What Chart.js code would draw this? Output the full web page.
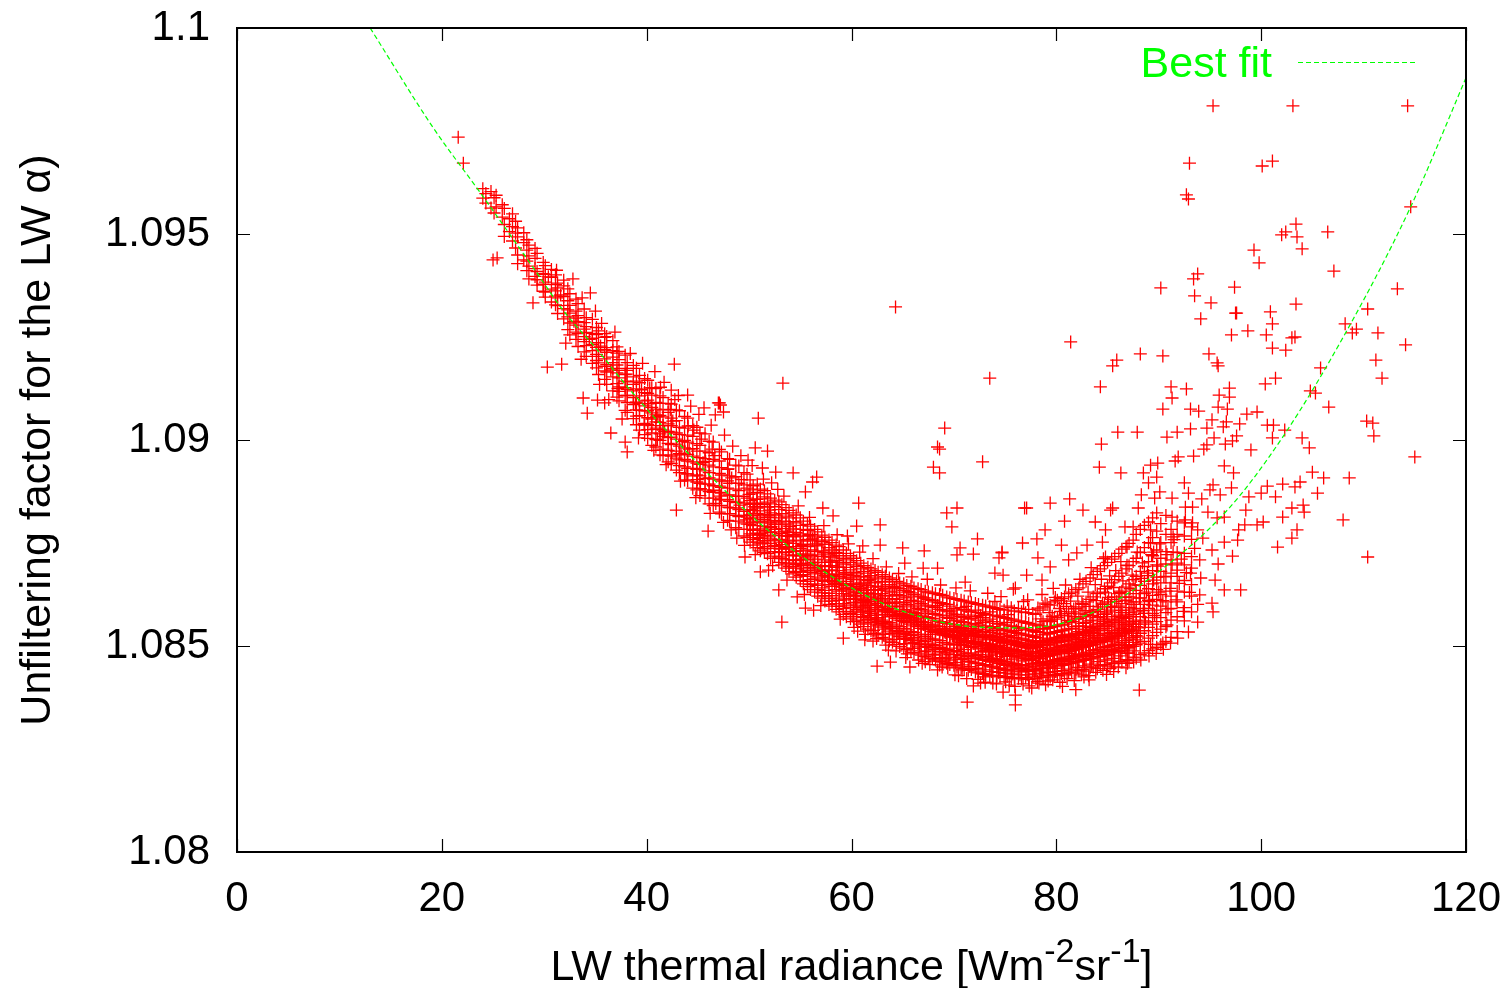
<!DOCTYPE html>
<html><head><meta charset="utf-8">
<script src="https://cdn.jsdelivr.net/npm/chart.js@4"></script>
<style>html,body{margin:0;padding:0;background:#fff}#w{width:1508px;height:988px;position:relative}</style>
</head><body><div id="w"><canvas id="c" width="1508" height="988"></canvas></div>
<script>
const xTickValues=[0,20,40,60,80,100,120];
const yTickLabels=['1.08','1.085','1.09','1.095','1.1'];
const seriesFit='Best fit';
const xTitleParts=['LW thermal radiance [Wm','-2','sr','-1',']'];
const yTitle='Unfiltering factor for the LW \u03b1)';
// Factor values below are in units of 0.00001 above 1.08
const fitRadiance=[13,19.1,23.7,29.3,31.8,35.2,38.4,41.6,47.9,51.8,58.2,64.7,72.3,76,80,84.3,88.9,96.7,102.1,108.4,114.6,120];
const fitFactor=[2000,1760,1602,1405,1316,1218,1121,1032,871,782,667,587,546,544,552,590,660,830,1007,1267,1566,1879];
const isolated=[[95.3,1811],[103.1,1811],[114.3,1811],[93,1672],[100.1,1665],[101.1,1677],[92.7,1595],[92.9,1585],[114.6,1566],[103.4,1524],[102.4,1505],[102,1498],[103.5,1493],[106.5,1505],[104,1464],[99.3,1461],[99.8,1430],[107.1,1410],[93.8,1403],[93.4,1391],[90.2,1369],[97.4,1371],[113.3,1367],[93.5,1350],[95.1,1333],[103.4,1330],[97.6,1308],[97.5,1308],[100.9,1311],[110.4,1318],[94.1,1294],[101.1,1282],[108.2,1282],[109.3,1269],[108.9,1260],[98.7,1265],[111.4,1260],[97.1,1255],[100.5,1255],[103.3,1250],[103,1248],[114.1,1231],[81.4,1238],[101.1,1223],[102.4,1218],[111.2,1194],[111.8,1150],[88.2,1209],[90.4,1204],[85.9,1194],[85.5,1180],[94.9,1209],[95.7,1187],[95.8,1180],[84.3,1129],[105.8,1175],[101.4,1150],[100.4,1136],[91.2,1129],[92.7,1124],[96.9,1126],[95.9,1109],[96.9,1104],[91.3,1102],[104.8,1119],[105.3,1114],[106.6,1080],[90.4,1075],[93.1,1075],[93.9,1070],[95.8,1080],[96.7,1075],[99.6,1068],[98.6,1063],[95.2,1049],[96.6,1044],[110.3,1046],[110.9,1041],[111,1010],[93.1,1027],[94.7,1029],[96.3,1032],[97.9,1039],[91.8,1019],[100.6,1036],[101.2,1036],[102.3,1024],[86,1019],[87.9,1019],[90.8,1007],[104,1005],[101.1,1005],[95.4,1005],[97.6,1010],[97.2,998],[84.4,990],[104.7,981],[96.5,990],[94.7,988],[99,976],[94.4,978],[93.4,961],[115,959],[91.9,959],[91.6,949],[89.9,944],[89.2,939],[84.2,934],[96.4,937],[86.3,920],[88.5,920],[89.8,910],[97.3,920],[105,922],[106.1,908],[108.6,908],[92.5,896],[89,896],[103.8,898],[102.1,893],[103.3,886],[100.6,888],[95.3,891],[97.1,884],[95,879],[90.1,874],[92.9,871],[105.5,871],[101.4,862],[100,871],[98.8,862],[96,867],[88.3,867],[94.2,857],[91.3,859],[89.6,859],[77.1,835],[76.9,835],[79.4,847],[81.3,857],[82.6,830],[85.5,835],[85.3,830],[88,835],[92.6,837],[93.3,837],[94.8,825],[98.5,830],[104.1,842],[104.2,825],[103,835],[102.1,813],[108,806],[100.2,801],[99.6,794],[96.4,813],[95.7,811],[91.3,813],[89.8,823],[80.8,803],[83.8,801],[92.6,806],[93.3,799],[97.8,782],[98.4,794],[103.5,782],[103,762],[101.6,740],[110.4,716],[97.7,757],[96.4,752],[95.2,733],[97.2,718],[95.8,699],[95.5,660],[96.4,636],[98,636],[94,624],[95.2,604],[95.3,583],[93.8,558],[92.9,534],[90.8,551],[90.4,507],[78.9,782],[78.1,760],[76.7,750],[74.7,726],[80.5,745],[78.2,714],[81.2,709],[82,726],[83,745],[84.8,782],[86.7,789],[87.5,789],[84.5,752],[86.9,740],[89.2,782],[89.2,750],[89.5,728],[91.4,765],[91.4,728],[93.8,782],[94.3,762],[84.8,716],[79.4,692],[77.1,672],[74.8,672],[78.6,660],[94,709],[93.1,677],[91.8,684],[76,641],
[64.3,1323],[73.5,1150],[69.1,1029],[68.4,983],[68.6,978],[68,934],[68.6,920],[72.8,947],[53.3,1138],[50.9,1053],[47,1090],[47.2,1085],[45.6,1078],[46.7,1061],[47.5,1068],[50.6,981],[51.8,973],[49.9,951],[51.3,932],[54.3,920],[52.6,922],[56.6,910],[56.2,898],[55.5,874],[52.2,896],[60.7,847],[60.5,791],[62.8,794],[58.2,816],[57.2,835],[59.6,767],[61.1,743],[62.8,745],[65,738],[67.1,731],[68.4,689],[69.3,823],[70.3,835],[69.8,789],[72.3,760],[70.6,738],[70.3,721],[71.9,723],[74.7,728],[74.4,714],[74,677],[71.1,655],[67,689],[65.2,701],[53.2,558],[59.2,519],[61.3,515],[62.5,451],[63.8,461],[65.7,449],[71.3,364],[76,381],[76,357],[71.9,403],[74.8,388],[46,779],[49.6,716],[52.9,636],[54.7,619],[55.5,592],[56.3,587],[51.1,680],[51.9,684],[68.6,454],[70.8,442],[72.9,425],[73.8,410],[88.1,393],
[21.6,1735],[22.1,1672],[25.4,1442],[25,1437],[32.8,1391],[34.5,1357],[35,1313],[28.9,1333],[30.3,1177],[31.7,1184],[42.7,1184],[33.8,1102],[34.2,1065],[35.2,1097],[35.9,1090],[36.5,1017],[37.9,995],[38.1,971],[42.9,830],[44,1109],[42.4,1121],[47.1,1090],[78.3,410],[80.6,402],[83.2,418],[84.9,431],[86.8,447],[81.9,394],[67.2,462],[69.4,447]];
// Points read along the rough edges and through the thinner parts of the cloud
const scattered=[[31.2,1412],[33.7,1345],[35.6,1283],[36.9,1262],[38.4,1210],[39.6,1186],[40.8,1166],[41.7,1140],[43.1,1108],[44.3,1082],[45.1,1062],[46.3,1036],[47.6,1012],[48.4,985],[49.2,962],[50.3,938],[51.4,905],[52.8,880],[53.4,864],[54.8,840],[55.9,812],[57.3,792],[58.6,770],[59.7,748],[60.8,728],[62.1,712],[63.4,692],[64.6,676],[65.9,668],[67.4,662],[68.7,648],[70.2,641],[71.6,634],[73.3,628],[74.6,620],[75.8,638],[77.2,612],[78.6,625],[79.7,640],[80.9,648],[82.3,662],[83.4,690],[84.6,712],[85.2,670],[86.3,705],[32.1,1235],[33.6,1196],[35.4,1135],[36.3,1098],[37.6,1051],[39.2,1005],[40.7,975],[41.9,940],[43.3,900],[44.8,860],[46.2,822],[47.5,800],[48.8,762],[50.6,722],[52.3,695],[53.7,660],[55.4,625],[57,598],[58.9,565],[60.6,536],[62.1,512],[63.6,490],[65.3,472],[66.9,458],[68.4,442],[70.1,430],[72.6,410],[75.4,405],[77.6,398],[79.2,415],[82.7,425],[85.6,438],
[78.2,592],[78.5,566],[78.9,604],[79.3,581],[79.6,572],[79.9,618],[80.3,591],[80.4,584],[80.7,603],[81,596],[81.1,562],[81.4,609],[81.7,590],[81.8,571],[82.1,621],[82.4,578],[82.5,603],[82.8,586],[83.1,631],[83.2,596],[83.5,574],[83.8,649],[83.9,610],[84.1,584],[84.4,662],[84.5,604],[84.8,629],[84.9,580],[85.1,618],[85.3,596],[85.6,642],[85.9,608],[85.8,683],[86.2,630],[86.3,586],[86.5,658],[86.7,618],[86.9,696],[87.2,639],[87.3,607],[87.4,672],[87.6,590],[87.7,648],[87.9,728],[88.1,616],[88.3,664],[88.4,702],[88.5,586],[88.8,631],[88.9,677],[89.1,608],[89.3,722],[89.5,660],[89.6,574],[89.9,694],[90,631],[90.1,748],[90.4,610],[90.5,668],[90.8,722],[90.9,590],[91.1,640],[91.3,697],[91.5,758],[91.7,612],[92,652],[92.2,711],[92.4,584],[92.7,678],[93,630],[93.5,737],[93.8,601],[94.1,665],
[60.4,614],[60.9,640],[61.4,598],[61.8,662],[62.5,604],[62.9,636],[63.5,588],[64.2,642],[64.9,562],[65.6,632],[66.3,574],[67,616],[67.7,528],[68.4,598],[69.1,536],[69.8,578],[70.5,512],[71.2,596],[71.9,529],[72.6,574],[73.4,486],[74,608],[74.7,508],[75.3,576],[76.1,538],[76.8,608],[77.5,494],[78.1,534],[78.8,542],[79.5,560],[80,502],[80.6,527],[81.3,482],[82,512],[82.9,548],[83.7,526],[84.6,565],[85.5,512],[86.6,552],[87,483],[87.9,522],[88.7,558],[89.2,504],[40.3,1126],[41.1,1058],[42.3,1074],[43.5,996],[44.6,1024],[45.5,945],[46.4,978],[47.2,864],[48.3,908],[49.1,842],[50,868],[51,770],[52,830],[53,752],[54,790],[55.1,700],[56.2,760],[57.2,660],[58.3,724],[59.3,612],[36.5,1170],[37.2,1125],[38,1160],[38.9,1090],[39.5,1122],[30.4,1396],[31.6,1352],[32.9,1288],[34.4,1244],[35.5,1228]];
// Points read in the solid core of the cloud and just outside its lower edge
const corePoints=[[55.15,744],[55.55,716],[55.85,768],[56.25,702],[56.55,748],[56.95,684],[57.25,726],[57.65,668],[57.95,706],[58.35,652],[58.65,694],[59.05,636],[59.35,678],[59.75,624],[60.05,662],[60.35,606],[60.75,650],[61.05,592],[61.45,636],[61.75,584],[62.15,626],[62.45,566],[62.85,612],[63.15,558],[63.55,604],[63.85,544],[64.25,596],[64.55,532],[64.95,584],[65.25,518],[65.65,574],[65.95,506],[66.35,566],[66.65,498],[67.05,552],[67.35,488],[67.75,546],[68.05,480],[68.45,540],[68.75,472],[69.15,532],[69.45,466],[69.85,524],[70.15,460],[70.55,518],[70.85,454],[71.25,510],[71.55,450],[71.95,506],[72.25,446],[72.65,500],[72.95,442],[73.35,494],[73.65,438],[74.05,490],[74.35,436],[74.75,486],[75.05,434],[75.45,482],[75.75,432],[76.15,478],[76.45,430],[76.85,476],[77.15,430],[77.55,474],[77.85,432],[78.25,476],[78.55,434],[78.95,480],[79.25,436],[79.65,482],[79.95,438],[80.35,486],[80.65,440],[81.05,490],[81.35,444],[81.75,494],[82.05,448],[82.45,498],[82.75,452],[83.15,502],[83.45,456],[83.85,508],[84.15,462],[84.55,514],[84.85,466],[85.25,520],[85.55,470],[85.95,526],[86.25,476],[86.65,532],[86.95,482],[87.35,538],[87.65,488],[88.05,544],
[60.15,572],[61.15,556],[62.15,538],[63.15,528],[64.15,516],[65.15,506],[66.15,494],[67.15,486],[68.15,478],[69.15,470],[70.65,504],[71.15,528],[71.65,498],[72.15,538],[72.65,486],[73.15,522],[73.65,478],[74.15,516],[74.65,474],[75.15,512],[75.65,468],[76.15,506],[76.65,464],[77.15,502],[77.65,458],[78.15,498],[78.65,456],[79.15,492],[79.65,454],[80.15,488],[80.65,458],[81.15,510],[81.65,462],[82.15,516],[82.65,468],[83.15,524],[83.65,474],[84.15,530],[84.65,482],[85.15,538],[85.65,488],[86.15,546],[86.65,496],[87.15,556],
[70.45,428],[71.25,421],[72.35,419],[73.05,412],[74.15,408],[75.05,413],[75.95,402],[76.75,408],[77.35,403],[78.15,414],[78.95,406],[79.65,418],[80.35,412],[81.05,421],[81.75,416],[82.45,430],[83.15,428],[83.85,436],[84.55,441],[85.25,446],[86.05,449],[86.95,458],[87.55,461],[88.25,466],[89.05,476],[89.75,482],[90.45,492],[91.15,507],[91.85,519],[60.25,545],[61.35,528],[62.45,518],[63.35,502],[64.35,488],[65.45,481],[66.55,466],[67.65,455],[68.85,449],
[40.15,1088],[40.95,1056],[41.75,1020],[42.55,1046],[43.35,964],[44.15,978],[44.95,904],[45.75,948],[46.55,878],[47.35,900],[48.15,836],[48.95,864],[49.75,806],[50.55,838],[51.35,750],[52.15,790],[52.95,736],[53.75,766],[54.55,698],[41.35,1128],[42.75,1098],[44.05,1034],[45.35,1002],[46.65,962],[47.95,930],[49.25,904],[50.75,856],[51.95,818],[53.15,796],[54.35,770],[39.75,1040],[41.05,1002],[42.45,964],[43.85,918],[45.25,882],[46.75,846],[48.25,782],[49.55,744]];
// Each row: radiance, then the factors read at about that radiance
const bandRows=[
[24,1610,1587],[24.3,1598,1575],[24.8,1603,1563],[25.1,1588,1551],[25.3,1566,1594],[25.9,1541,1571],[26.1,1523,1562,1494],[26.6,1537,1506],[26.9,1483,1518,1549],[27.2,1466,1502,1531],[27.4,1449,1493,1515,1428],[28,1479,1437,1503],[28.3,1411,1461,1486,1434],[28.5,1473,1422,1447,1391],[29.1,1397,1441,1465,1416],[29.3,1376,1409,1453,1389],[29.9,1361,1431,1404,1378],[30.1,1347,1383,1402,1423,1359],[30.7,1335,1366,1395,1414],[31.1,1328,1349,1377,1401,1362],[31.3,1307,1345,1369,1381,1326],[31.9,1294,1319,1348,1374,1388],[32.3,1268,1299,1316,1338,1367],[32.5,1255,1284,1308,1327,1355],[33.1,1244,1279,1296,1313,1342,1262],[33.3,1227,1258,1287,1302,1331],[33.9,1214,1239,1269,1285,1318,1251],[34.1,1203,1229,1261,1275,1297],[34.7,1186,1217,1247,1259,1293,1232],[35.1,1175,1208,1225,1256,1273,1193],[35.3,1159,1187,1218,1236,1265,1203],[35.9,1147,1179,1197,1219,1249,1258,1168],[36.1,1135,1165,1183,1213,1224,1251],[36.7,1119,1153,1174,1201,1217,1241,1188],[37.1,1104,1137,1163,1182,1211,1226],[37.3,1095,1118,1151,1169,1195,1215,1129],[37.9,1072,1108,1127,1159,1174,1206,1143],[38.1,1067,1091,1123,1141,1169,1188,1108],[38.7,1052,1086,1103,1135,1153,1181,1119],[39,1037,1073,1092,1124,1143,1174,1058],[39.3,1024,1059,1089,1107,1139,1157,1072],[39.8,1013,1036,1071,1095,1115,1149,1083],
[40.1,1004,1025,1054,1071,1097,1113,1145,1038],[40.5,987,1017,1035,1066,1079,1109,1127,1051],[40.9,983,1001,1029,1044,1075,1091,1125,1061],[41.3,964,999,1015,1043,1060,1089,1107,1026],[41.6,962,978,1009,1024,1056,1073,1103,1035],[42.1,947,975,992,1021,1039,1067,1089,1006],[42.4,943,961,989,1007,1035,1053,1087,1019],[42.9,927,956,973,1002,1017,1047,1073,990],[43.2,921,938,967,985,1013,1031,1071,952],[43.7,903,935,953,981,999,1029,1057,968],[44,901,918,949,965,995,1012,1053,931],[44.5,883,913,931,961,979,1009,1035,947],[44.9,879,898,929,944,973,991,1031,915],[45.2,865,895,913,941,957,987,1017,929],[45.7,859,879,907,925,955,973,1015,893],[46.1,845,875,893,921,939,969,997,908],[46.5,841,859,889,905,935,953,995,873],[47.1,825,855,873,903,919,949,977,888],[47.3,821,841,871,885,915,933,971,856],[47.9,805,837,855,883,901,929,955,866],[48.1,803,821,851,867,895,913,953,836],[48.7,787,817,835,863,881,911,939,848],[49,783,803,831,849,877,895,937,814],[49.5,767,799,817,847,863,891,921,827],[49.8,763,783,813,831,859,883,917,796],
[50.1,752,772,783,809,818,844,853,879,903,795,831],[50.4,745,758,781,792,817,829,847,871,889,769,801],[50.8,739,763,774,799,811,835,846,873,893,752,822],[51.1,731,748,773,784,803,828,839,857,881,761,816],[51.5,736,756,768,791,807,819,844,862,877,780,727],[51.8,724,741,765,777,801,812,837,849,869,755,789],[52.1,713,737,749,775,787,813,823,845,859,760,798],[52.5,718,729,757,769,783,805,818,838,854,744,795],[52.9,703,727,741,759,777,801,811,831,850,716,768],[53.2,697,712,736,746,773,785,803,821,843,728,757],[53.6,689,709,727,739,768,779,796,815,836,701,752],[53.9,681,701,721,741,755,775,791,811,829,693,735],[54.3,675,693,719,729,749,767,784,802,823,709,757],[54.6,667,689,707,731,741,765,776,799,818,679,720],[55,659,681,701,719,737,755,772,793,811,671,709],[55.3,651,673,695,711,731,747,767,783,803,687,723],[55.7,644,669,683,709,723,741,759,781,795,657,699],[56,637,661,679,697,719,733,755,771,791,649,691],[56.4,631,651,675,689,711,729,745,765,783,663,703],[56.7,621,647,667,685,703,721,743,757,777,637,695],[57.1,616,641,659,681,695,717,731,753,769,629,677],[57.4,609,635,657,671,693,709,727,747,764,622,683],[57.8,601,628,649,667,685,703,721,739,757,615,675],[58.1,597,622,645,659,683,695,716,733,751,609,671],[58.5,589,616,637,655,673,691,707,727,745,603,663],[58.8,583,611,633,649,669,683,703,719,741,596,657],[59.2,577,603,627,643,665,677,699,713,733,591,652],[59.5,571,599,621,639,657,673,691,709,725,584,647],[59.9,566,593,615,633,651,667,685,703,719,579,641],
[60.2,559,583,605,621,637,649,671,679,697,713,594,629],[60.5,563,577,599,613,631,645,661,675,693,707,588,623],[60.9,553,571,595,607,627,641,653,669,687,701,582,616],[61.2,547,569,587,605,621,635,651,667,681,695,561,611],[61.6,541,564,583,599,617,629,647,659,677,691,574,608],[61.9,537,557,579,593,613,627,643,655,671,687,568,602],[62.3,531,553,575,589,609,621,637,653,667,683,563,598],[62.6,527,549,569,587,603,617,635,645,663,679,559,593],[63,521,546,563,583,597,615,627,643,657,673,555,589],[63.3,517,541,559,577,595,609,623,639,655,669,551,585],[63.7,512,536,557,573,591,605,621,633,649,665,547,581],[64,509,531,553,571,585,603,615,631,645,661,542,577],[64.4,504,527,549,567,583,597,613,625,643,657,538,574],[64.7,499,523,547,563,579,595,607,623,639,653,535,571],[65.1,495,519,543,559,577,589,605,619,635,651,531,567],[65.4,492,516,539,557,571,587,601,617,631,647,528,563],[65.8,488,513,535,553,569,583,599,611,629,645,525,561],[66.1,484,509,533,549,565,581,595,609,625,641,521,557],[66.5,481,505,529,547,561,579,591,607,621,639,517,553],[66.8,478,503,527,543,559,575,589,603,619,637,513,549],[67.2,475,499,523,541,557,571,587,599,617,633,511,547],[67.5,471,497,519,539,553,569,583,597,613,631,507,544],[67.9,469,493,517,535,551,567,579,595,611,629,504,541],[68.2,466,491,515,533,549,563,577,593,607,627,501,537],[68.6,463,487,513,529,547,559,575,589,605,625,497,535],[68.9,461,485,509,527,543,557,573,587,603,623,494,531],[69.3,458,483,505,525,541,555,569,585,601,619,491,529],[69.6,455,479,503,523,537,553,567,583,597,617,489,527],
[70,453,471,489,507,521,535,547,561,573,591,615,479,527,541],[70.3,449,473,487,503,517,533,551,563,577,587,613,495,525,543],[70.7,447,467,485,509,519,529,545,559,571,593,611,477,515,539],[71,445,469,491,501,523,537,549,557,569,589,609,481,513,531],[71.4,441,463,481,505,513,527,541,565,575,585,607,475,511,535],[71.7,443,461,483,497,519,531,543,553,567,583,605,473,509,525],[72.1,437,459,477,499,511,525,547,555,571,587,603,469,507,533],[72.4,435,457,479,493,515,523,539,551,563,581,601,471,503,529],[72.8,433,453,473,495,509,521,535,557,569,579,599,467,505,527],[73.1,431,455,475,489,507,529,541,549,561,577,597,465,501,519],[73.5,429,451,471,491,503,517,533,545,565,583,595,463,497,525],[73.8,427,449,469,487,505,515,537,547,559,575,593,461,499,523],[74.2,428,447,467,485,499,513,527,543,555,573,591,459,495,521],[74.5,425,445,465,481,501,511,531,539,553,571,589,457,493,519],[74.9,423,443,463,483,497,509,529,541,551,569,587,455,491,517],[75.2,426,441,461,479,493,507,523,537,557,567,597,453,489,515],[75.6,421,444,459,477,495,505,525,535,549,565,593,451,487,513],[75.9,424,439,457,475,491,503,521,533,547,563,585,449,483,511],[76.3,422,442,455,473,489,501,519,531,545,561,591,447,485,509],[76.6,420,437,453,471,487,499,517,529,543,559,583,445,481,507],[77,423,440,451,469,485,497,515,527,541,557,581,447,479,505],[77.3,419,438,454,467,483,495,513,525,539,555,589,443,477,503],[77.7,425,441,456,465,481,493,511,523,537,553,579,449,475,501],[78,421,443,458,471,487,499,509,521,535,551,577,451,473,505],[78.4,427,439,460,469,483,497,507,519,533,549,587,445,477,503],[78.7,423,445,462,473,489,501,513,527,541,559,595,453,481,509],[79.1,429,447,459,475,491,503,515,529,543,561,601,455,483,511],[79.4,425,449,463,477,493,505,517,531,545,563,599,457,485,513],[79.8,431,446,465,479,495,507,519,533,547,565,607,461,487,515],
[80.1,428,451,467,481,497,509,521,535,549,569,611,459,489,517],[80.5,433,453,469,483,499,511,523,537,551,573,615,463,491,519],[80.8,430,455,471,485,501,513,525,539,553,575,619,465,493,521],[81.2,435,457,473,487,503,515,527,541,557,579,627,467,495,523],[81.5,437,459,475,489,505,517,529,543,559,583,631,469,497,525],[81.9,434,461,477,491,507,519,531,547,565,591,637,471,499,527],[82.2,441,463,479,493,509,521,535,549,567,595,641,473,501,529],[82.6,443,465,481,497,511,525,539,555,571,601,651,475,503,533],[82.9,439,467,483,499,513,527,541,557,577,607,657,477,505,535],[83.3,447,469,485,501,517,531,545,561,581,613,665,479,507,537],[83.6,449,471,489,503,519,533,547,563,585,619,673,481,509,541],[84,445,473,491,505,521,537,551,569,589,627,681,483,511,543],[84.3,453,475,493,509,525,539,555,571,595,631,687,485,513,547],[84.7,455,477,497,511,527,543,559,577,601,639,695,487,517,549],[85,451,479,499,515,531,547,563,583,607,645,703,489,519,553],[85.4,459,483,501,517,533,549,565,587,613,653,711,491,523,557],[85.7,457,485,503,519,537,553,571,593,619,661,717,493,527,561],[86.1,463,487,507,523,541,557,575,597,627,669,725,495,531,565],[86.4,461,489,509,527,543,561,581,603,633,677,735,497,533,569],[86.8,467,493,513,531,549,567,587,611,643,687,741,501,537,575],[87.1,465,497,517,535,553,571,593,619,651,695,749,503,541,581],[87.5,473,499,521,541,559,577,601,627,661,705,757,509,547],[87.8,471,503,525,547,563,583,607,635,669,713,771,515,553],[88.2,479,507,531,553,571,591,617,647,681,727,783],[88.6,483,511,537,561,579,601,627,657,693,739,793],[89,489,519,545,569,591,611,639,671,705,751,801],[89.4,493,525,553,579,599,623,651,683,719,763,811],[89.8,497,533,559,587,613,637,667,697,733,779],[90.2,503,541,569,597,625,653,681,713,751,797],[90.7,511,547,581,607,633,669,699,729,771,817],[91.2,521,563,591,621,653,677,709,751,783],[91.8,535,571,607,633,669,701,727,771,803],[92.5,561,593,631,659,697,725,767,799],[93.2,583,621,649,689,717,759,789]];

const toFactor=v=>1.08+v*1e-5;
const scatterData=[];
isolated.concat(scattered,corePoints).forEach(p=>scatterData.push({x:p[0],y:toFactor(p[1])}));
bandRows.forEach(r=>r.slice(1).forEach(v=>scatterData.push({x:r[0],y:toFactor(v)})));
const fitData=fitRadiance.map((x,i)=>({x,y:toFactor(fitFactor[i])}));

const FONT='"Liberation Sans", Arial, sans-serif';
const decor={id:'decor',
 beforeDatasetsDraw(ch){
  const {ctx,chartArea:a,scales:{x,y}}=ch;ctx.save();ctx.strokeStyle='#000';ctx.lineWidth=1.2;ctx.beginPath();
  x.ticks.forEach((t,i)=>{const p=Math.round(x.getPixelForTick(i))+.5;ctx.moveTo(p,a.top);ctx.lineTo(p,a.top+13);ctx.moveTo(p,a.bottom);ctx.lineTo(p,a.bottom-13);});
  y.ticks.forEach((t,i)=>{const p=Math.round(y.getPixelForTick(i))+.5;ctx.moveTo(a.left,p);ctx.lineTo(a.left+13,p);ctx.moveTo(a.right,p);ctx.lineTo(a.right-13,p);});
  ctx.stroke();ctx.restore();
 },
 afterDraw(ch){
  const {ctx,chartArea:a}=ch;ctx.save();
  ctx.strokeStyle='#000';ctx.lineWidth=2;ctx.strokeRect(a.left,a.top,a.right-a.left,a.bottom-a.top);
  ctx.fillStyle='#00ff00';ctx.font='43px '+FONT;ctx.textBaseline='alphabetic';ctx.textAlign='right';
  ctx.fillText(seriesFit,a.right-194,a.top+49);
  ctx.strokeStyle='#00ff00';ctx.lineWidth=1;ctx.setLineDash([5,3]);ctx.beginPath();ctx.moveTo(a.right-168,a.top+34.5);ctx.lineTo(a.right-51,a.top+34.5);ctx.stroke();ctx.setLineDash([]);
  ctx.fillStyle='#000';ctx.textAlign='left';
  const sizes=[43,34,43,34,43],rise=[0,18,0,18,0];
  let w=0;xTitleParts.forEach((s,i)=>{ctx.font=sizes[i]+'px '+FONT;w+=ctx.measureText(s).width;});
  let px=(a.left+a.right)/2-w/2;
  xTitleParts.forEach((s,i)=>{ctx.font=sizes[i]+'px '+FONT;ctx.fillText(s,px,980-rise[i]);px+=ctx.measureText(s).width;});
  ctx.restore();
 }};

new Chart(document.getElementById('c'),{
 type:'scatter',
 data:{datasets:[
  {label:seriesFit,type:'line',data:fitData,borderColor:'#00ff00',borderWidth:1.2,borderDash:[5,3],pointRadius:0,tension:.4,cubicInterpolationMode:'monotone',fill:false},
  {label:'Data',data:scatterData,pointStyle:'cross',pointRadius:6.5,pointBorderWidth:1.3,pointBorderColor:'#ff0000',pointBackgroundColor:'#ff0000',borderColor:'#ff0000',showLine:false}
 ]},
 plugins:[decor],
 options:{responsive:false,animation:false,events:[],
  layout:{padding:{left:0,right:42,top:28,bottom:0}},
  plugins:{legend:{display:false},tooltip:{enabled:false},title:{display:false}},
  scales:{
   x:{type:'linear',min:0,max:120,afterFit(s){s.height=136;s.paddingLeft=0;s.paddingRight=0;},afterBuildTicks(s){s.ticks=xTickValues.map(v=>({value:v}));},
      grid:{display:false},border:{display:false},
      ticks:{color:'#000',font:{family:'"Liberation Sans"',size:42},padding:14,maxRotation:0,autoSkip:false,callback:v=>String(v)}},
   y:{type:'linear',min:1.08,max:1.1,afterFit(s){s.width=237;s.paddingTop=0;s.paddingBottom=0;},
      grid:{display:false},border:{display:false},
      title:{display:true,text:yTitle,color:'#000',font:{family:'"Liberation Sans"',size:43},padding:{top:12,bottom:0}},
      ticks:{color:'#000',font:{family:'"Liberation Sans"',size:42},padding:19,stepSize:.005,autoSkip:false,callback:(v,i)=>yTickLabels[i]}}
  }}
});
</script></body></html>
